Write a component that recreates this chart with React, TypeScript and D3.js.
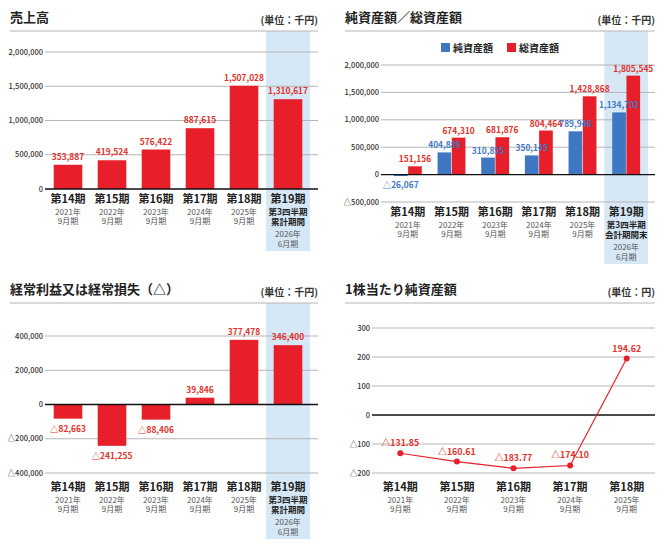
import React, { useEffect, useRef } from 'react';
import * as d3 from 'd3';

const periods = ['第14期', '第15期', '第16期', '第17期', '第18期', '第19期'];
const periodYears = ['2021年', '2022年', '2023年', '2024年', '2025年', '2026年'];
const periodMonths = ['9月期', '9月期', '9月期', '9月期', '9月期', '6月期'];

const sales = [353887, 419524, 576422, 887615, 1507028, 1310617];
const salesTicks = [0, 500000, 1000000, 1500000, 2000000];

const netAssets = [-26067, 404889, 310895, 350145, 789946, 1134702];
const totalAssets = [151156, 674310, 681876, 804464, 1428868, 1805545];
const assetTicks = [-500000, 0, 500000, 1000000, 1500000, 2000000];
const assetSeries = ['純資産額', '総資産額'];

const ordinaryIncome = [-82663, -241255, -88406, 39846, 377478, 346400];
const incomeTicks = [-400000, -200000, 0, 200000, 400000];

const bpsPeriods = periods.slice(0, 5);
const bps = [-131.85, -160.61, -183.77, -174.1, 194.62];
const bpsTicks = [-200, -100, 0, 100, 200, 300];

const FONT = '"Noto Sans CJK JP", "Noto Sans", sans-serif';
const RED = '#e71f2a';
const LABEL_RED = '#e2302b';
const BLUE = '#3f77c3';
const BAND = '#d6e7f6';
const GRID = '#b5b5b5';

const num = d3.format(',');
const dec = d3.format('.2f');
const tri = (v: number, f: (n: number) => string = num) => (v < 0 ? '△' + f(-v) : f(v));

type G = d3.Selection<SVGGElement, unknown, null, undefined>;

function header(g: G, x0: number, x1: number, y: number, title: string, unit: string) {
  g.append('text').attr('x', x0).attr('y', y).text(title)
    .attr('font-size', 13).attr('font-weight', 700).attr('fill', '#222');
  g.append('text').attr('x', x1).attr('y', y + 2).attr('text-anchor', 'end').text(unit)
    .attr('font-size', 10).attr('font-weight', 700).attr('fill', '#333');
  g.append('line').attr('x1', x0).attr('x2', x1).attr('y1', y + 9).attr('y2', y + 9)
    .attr('stroke', GRID).attr('stroke-width', 1);
}

function grid(g: G, y: d3.ScaleLinear<number, number>, ticks: number[], labelX: number,
  gx0: number, gx1: number, f: (n: number) => string) {
  ticks.forEach((t) => {
    if (t !== 0) {
      g.append('line').attr('x1', gx0).attr('x2', gx1).attr('y1', y(t)).attr('y2', y(t))
        .attr('stroke', GRID).attr('stroke-width', 1);
    }
    g.append('text').attr('x', labelX).attr('y', y(t)).attr('dy', '0.35em')
      .attr('text-anchor', 'end').text(tri(t, f))
      .attr('font-size', 7.5).attr('font-weight', 500).attr('fill', '#333');
  });
}

function zeroLine(g: G, y: d3.ScaleLinear<number, number>, gx0: number, gx1: number) {
  g.append('line').attr('x1', gx0).attr('x2', gx1).attr('y1', y(0)).attr('y2', y(0))
    .attr('stroke', '#111').attr('stroke-width', 1.3);
}

function categories(g: G, names: string[], centers: number[], cb: number, extra: string[] | null) {
  names.forEach((name, i) => {
    const cx = centers[i];
    g.append('text').attr('x', cx).attr('y', cb).attr('text-anchor', 'middle').text(name)
      .attr('font-size', 11).attr('font-weight', 700).attr('fill', '#222');
    const last = extra && i === names.length - 1;
    const lines = last ? [...extra!, periodYears[i], periodMonths[i]] : [periodYears[i], periodMonths[i]];
    const offs = last ? [12, 21.5, 33.5, 43.5] : [12, 21];
    lines.forEach((txt, j) => {
      const bold = last && j < 2;
      g.append('text').attr('x', cx).attr('y', cb + offs[j]).attr('text-anchor', 'middle').text(txt)
        .attr('font-size', bold ? 8.5 : 8).attr('font-weight', bold ? 700 : 400)
        .attr('fill', bold ? '#222' : '#555');
    });
  });
}

function valueLabel(g: G, x: number, y: number, text: string, color: string) {
  g.append('text').attr('x', x).attr('y', y).attr('text-anchor', 'middle').text(text)
    .attr('font-size', 8.4).attr('font-weight', 700).attr('fill', color);
}

const App: React.FC = () => {
  const svgRef = useRef<SVGSVGElement | null>(null);

  useEffect(() => {
    const svg = d3.select(svgRef.current);
    svg.selectAll('*').remove();
    const root = svg.append('g').attr('font-family', FONT) as G;

    // 売上高 / 経常利益 share the same horizontal layout
    const xLeft = d3.scaleBand<string>().domain(periods).range([46, 310])
      .paddingInner(0.35).paddingOuter(0.175);
    const leftCenters = periods.map((p) => xLeft(p)! + xLeft.bandwidth() / 2);
    const leftStep = xLeft.step();

    // --- 売上高 ---
    {
      const g = root.append('g') as G;
      const y = d3.scaleLinear().domain([0, 2000000]).range([189, 52]);
      const last = leftCenters[5];
      g.append('rect').attr('x', last - leftStep / 2).attr('width', leftStep)
        .attr('y', 31).attr('height', 251 - 31).attr('fill', BAND);
      header(g, 10, 318, 22, '売上高', '(単位：千円)');
      grid(g, y, salesTicks, 43, 45, 318, num);
      sales.forEach((v, i) => {
        g.append('rect').attr('x', xLeft(periods[i])!).attr('width', xLeft.bandwidth())
          .attr('y', y(v)).attr('height', y(0) - y(v)).attr('fill', RED);
        valueLabel(g, leftCenters[i], y(v) - 5, tri(v), LABEL_RED);
      });
      zeroLine(g, y, 45, 318);
      categories(g, periods, leftCenters, 203, ['第3四半期', '累計期間']);
    }

    // --- 純資産額／総資産額 ---
    {
      const g = root.append('g') as G;
      const y = d3.scaleLinear().domain([-500000, 2000000]).range([202, 65]);
      const x0 = d3.scaleBand<string>().domain(periods).range([386, 648])
        .paddingInner(0.335).paddingOuter(0.1675);
      const x1 = d3.scaleBand<string>().domain(assetSeries).range([0, x0.bandwidth()]).padding(0.04);
      const centers = periods.map((p) => x0(p)! + x0.bandwidth() / 2);
      const step = x0.step();
      g.append('rect').attr('x', centers[5] - step / 2).attr('width', step)
        .attr('y', 31).attr('height', 264 - 31).attr('fill', BAND);
      header(g, 345, 655, 22, '純資産額／総資産額', '(単位：千円)');
      grid(g, y, assetTicks, 379, 381, 655, num);

      // legend
      const legend = [
        { name: assetSeries[0], color: BLUE, x: 441 },
        { name: assetSeries[1], color: RED, x: 507 },
      ];
      legend.forEach((l) => {
        g.append('rect').attr('x', l.x).attr('y', 43).attr('width', 9).attr('height', 9).attr('fill', l.color);
        g.append('text').attr('x', l.x + 12).attr('y', 51.5).text(l.name)
          .attr('font-size', 10).attr('font-weight', 700).attr('fill', '#222');
      });

      periods.forEach((p, i) => {
        const vals = [netAssets[i], totalAssets[i]];
        vals.forEach((v, s) => {
          const bx = x0(p)! + x1(assetSeries[s])!;
          const top = Math.min(y(v), y(0));
          const h = Math.abs(y(v) - y(0));
          g.append('rect').attr('x', bx).attr('width', x1.bandwidth())
            .attr('y', top).attr('height', h).attr('fill', s === 0 ? BLUE : RED);
        });
      });
      periods.forEach((p, i) => {
        const vals = [netAssets[i], totalAssets[i]];
        vals.forEach((v, s) => {
          const cx = x0(p)! + x1(assetSeries[s])! + x1.bandwidth() / 2;
          const ly = v < 0 ? y(v) + 12 : y(v) - 4;
          valueLabel(g, cx, ly, tri(v), s === 0 ? BLUE : LABEL_RED);
        });
      });
      zeroLine(g, y, 381, 655);
      categories(g, periods, centers, 216, ['第3四半期', '会計期間末']);
    }

    // --- 経常利益又は経常損失 ---
    {
      const g = root.append('g') as G;
      const y = d3.scaleLinear().domain([-400000, 400000]).range([473, 336]);
      g.append('rect').attr('x', leftCenters[5] - leftStep / 2).attr('width', leftStep)
        .attr('y', 303).attr('height', 539 - 303).attr('fill', BAND);
      header(g, 10, 318, 294, '経常利益又は経常損失（△）', '(単位：千円)');
      grid(g, y, incomeTicks, 43, 45, 318, num);
      ordinaryIncome.forEach((v, i) => {
        const top = Math.min(y(v), y(0));
        g.append('rect').attr('x', xLeft(periods[i])!).attr('width', xLeft.bandwidth())
          .attr('y', top).attr('height', Math.abs(y(v) - y(0))).attr('fill', RED);
        valueLabel(g, leftCenters[i], v < 0 ? y(v) + 13 : y(v) - 5, tri(v), LABEL_RED);
      });
      zeroLine(g, y, 45, 318);
      categories(g, periods, leftCenters, 491, ['第3四半期', '累計期間']);
    }

    // --- 1株当たり純資産額 ---
    {
      const g = root.append('g') as G;
      const y = d3.scaleLinear().domain([-200, 300]).range([473, 328]);
      const x = d3.scalePoint<string>().domain(bpsPeriods).range([372, 655]).padding(0.5);
      header(g, 345, 655, 294, '1株当たり純資産額', '(単位：円)');
      grid(g, y, bpsTicks, 370, 372, 655, (n) => String(n));
      zeroLine(g, y, 372, 655);
      const line = d3.line<number>().x((_, i) => x(bpsPeriods[i])!).y((d) => y(d));
      g.append('path').datum(bps).attr('d', line).attr('fill', 'none')
        .attr('stroke', RED).attr('stroke-width', 1.2);
      bps.forEach((v, i) => {
        g.append('circle').attr('cx', x(bpsPeriods[i])!).attr('cy', y(v)).attr('r', 3).attr('fill', RED);
        g.append('text').attr('x', x(bpsPeriods[i])!).attr('y', y(v) - 7).attr('text-anchor', 'middle')
          .text(tri(v, dec)).attr('font-size', 8.8).attr('font-weight', 700).attr('fill', LABEL_RED);
      });
      categories(g, bpsPeriods, bpsPeriods.map((p) => x(p)!), 491, null);
    }
  }, []);

  return (
    <svg ref={svgRef} width={667} height={546}
      style={{ position: 'absolute', left: 0, top: 0, background: '#fff' }} />
  );
};

export default App;
